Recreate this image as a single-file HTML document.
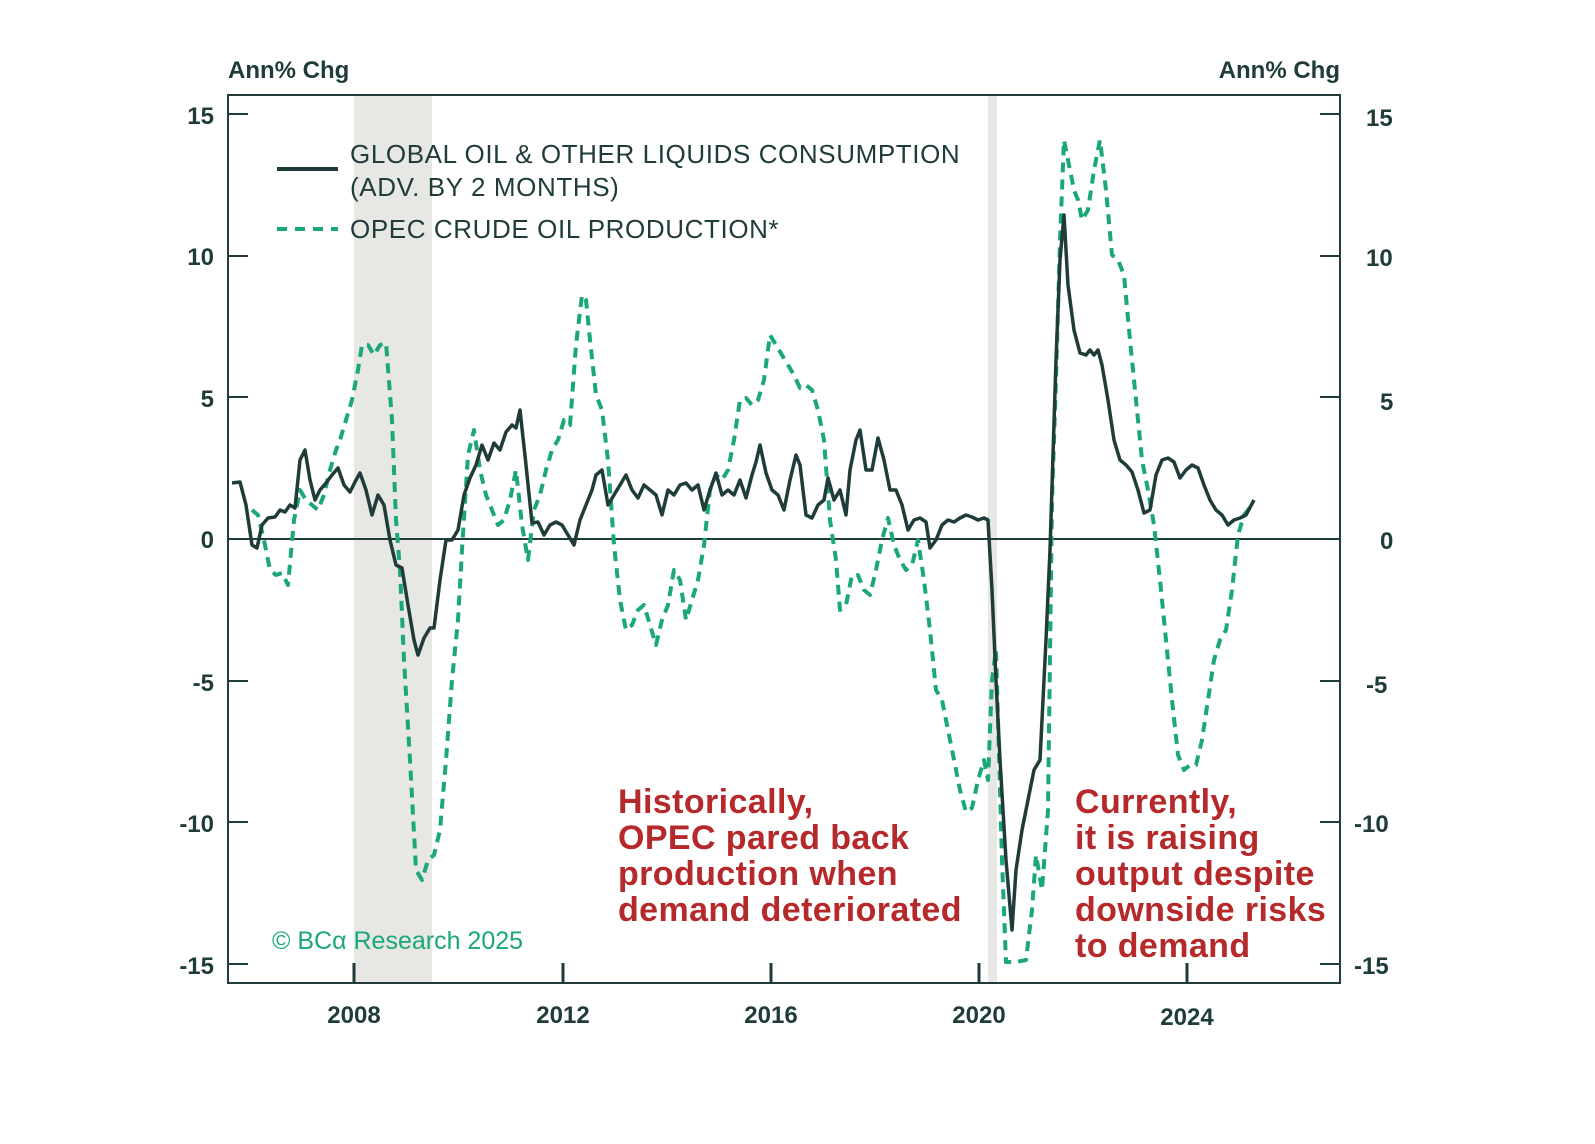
<!DOCTYPE html>
<html><head><meta charset="utf-8"><style>
html,body{margin:0;padding:0;background:#fff;}
svg{display:block;}
text{font-family:"Liberation Sans",sans-serif;}
</style></head><body>
<svg width="1595" height="1144" viewBox="0 0 1595 1144" xmlns="http://www.w3.org/2000/svg">
<rect x="354" y="96" width="78" height="886" fill="#e7e7e3"/>
<rect x="988" y="96" width="9" height="886" fill="#e7e7e3"/>
<rect x="228" y="95" width="1112" height="888" fill="none" stroke="#1f3b3a" stroke-width="2"/>
<line x1="228" y1="539" x2="1340" y2="539" stroke="#1f3b3a" stroke-width="2"/>
<g stroke="#1f3b3a" stroke-width="2">
<line x1="228" y1="114" x2="248" y2="114"/><line x1="228" y1="256" x2="248" y2="256"/><line x1="228" y1="397" x2="248" y2="397"/><line x1="228" y1="681" x2="248" y2="681"/><line x1="228" y1="822" x2="248" y2="822"/><line x1="228" y1="964" x2="248" y2="964"/>
<line x1="1320" y1="114" x2="1340" y2="114"/><line x1="1320" y1="256" x2="1340" y2="256"/><line x1="1320" y1="397" x2="1340" y2="397"/><line x1="1320" y1="681" x2="1340" y2="681"/><line x1="1320" y1="822" x2="1340" y2="822"/><line x1="1320" y1="964" x2="1340" y2="964"/>
</g>
<g stroke="#1f3b3a" stroke-width="3">
<line x1="354" y1="963" x2="354" y2="983"/><line x1="563" y1="963" x2="563" y2="983"/><line x1="771" y1="963" x2="771" y2="983"/><line x1="979" y1="963" x2="979" y2="983"/><line x1="1187" y1="963" x2="1187" y2="983"/>
</g>
<g fill="#1f3b3a" font-size="24" font-weight="bold">
<text x="228" y="78">Ann% Chg</text>
<text x="1340" y="78" text-anchor="end">Ann% Chg</text>
<g text-anchor="end"><text x="214" y="124">15</text><text x="214" y="265">10</text><text x="214" y="407">5</text><text x="214" y="548">0</text><text x="214" y="691">-5</text><text x="214" y="832">-10</text><text x="214" y="974">-15</text></g>
<g text-anchor="start"><text x="1366" y="126">15</text><text x="1366" y="266">10</text><text x="1380" y="410">5</text><text x="1380" y="549">0</text><text x="1366" y="693">-5</text><text x="1354" y="832">-10</text><text x="1354" y="974">-15</text></g>
<g text-anchor="middle"><text x="354" y="1023">2008</text><text x="563" y="1023">2012</text><text x="771" y="1023">2016</text><text x="979" y="1023">2020</text><text x="1187" y="1025">2024</text></g>
</g>
<line x1="277" y1="169" x2="338" y2="169" stroke="#1f3b3a" stroke-width="4"/>
<line x1="277" y1="229" x2="338" y2="229" stroke="#1aa77a" stroke-width="4" stroke-dasharray="10 8"/>
<g fill="#1f3b3a" font-size="26" letter-spacing="0.6">
<text x="350" y="163">GLOBAL OIL &amp; OTHER LIQUIDS CONSUMPTION</text>
<text x="350" y="196">(ADV. BY 2 MONTHS)</text>
<text x="350" y="238">OPEC CRUDE OIL PRODUCTION*</text>
</g>
<text x="272" y="949" font-family="Liberation Serif,serif" font-size="25" fill="#1aa77a">© BCα Research 2025</text>
<g fill="#b5292b" font-size="34" font-weight="bold" letter-spacing="0.4">
<text x="618" y="813">Historically,</text><text x="618" y="849">OPEC pared back</text><text x="618" y="885">production when</text><text x="618" y="921">demand deteriorated</text>
<text x="1075" y="813">Currently,</text><text x="1075" y="849">it is raising</text><text x="1075" y="885">output despite</text><text x="1075" y="921">downside risks</text><text x="1075" y="957">to demand</text>
</g>
<polyline fill="none" stroke="#1aa77a" stroke-width="4" stroke-dasharray="10 7" stroke-linejoin="round" points="252,510 258,515 264,540 270,570 276,575 282,573 288,585 294,520 300,490 306,500 312,505 318,510 324,495 330,470 336,450 340,440 346,420 352,400 358,370 362,345 368,345 374,355 380,345 386,343 392,420 396,520 400,570 404,660 410,760 416,870 422,880 428,860 434,855 440,830 446,760 452,680 458,620 462,550 468,455 474,430 480,470 486,495 492,510 498,525 504,520 510,500 516,470 522,525 528,560 534,510 540,495 546,470 552,450 558,440 564,420 570,425 576,345 582,295 586,300 590,340 596,395 602,410 608,460 614,545 620,600 626,630 632,625 638,610 644,605 650,625 656,645 662,620 668,605 674,570 680,580 686,620 692,600 698,580 704,545 710,490 716,475 722,480 728,470 734,440 740,400 746,398 752,405 758,400 764,380 770,335 776,345 782,355 788,365 794,375 800,388 806,385 812,390 818,410 824,440 830,520 836,560 840,610 846,605 852,575 858,575 864,590 870,595 876,570 882,540 888,518 894,545 900,560 906,570 912,565 918,540 924,580 930,630 936,690 942,700 948,730 954,760 960,790 966,812 972,808 978,780 984,760 988,780 992,680 996,650 1002,860 1006,962 1016,962 1026,960 1032,910 1036,855 1042,890 1048,810 1052,500 1056,380 1060,240 1064,140 1068,160 1074,190 1078,200 1082,220 1088,210 1094,170 1100,140 1106,190 1112,255 1118,260 1124,275 1130,340 1136,400 1142,460 1148,490 1154,525 1160,580 1166,640 1172,700 1178,755 1184,770 1190,765 1196,765 1202,740 1208,700 1214,660 1220,640 1226,630 1232,590 1238,535 1244,515 1252,505"/>
<polyline fill="none" stroke="#1f3b3a" stroke-width="3.5" stroke-linejoin="round" points="232,483 240,482 246,505 252,545 257,548 262,525 268,518 275,517 280,510 285,512 290,505 295,508 300,460 305,450 310,480 315,500 320,490 326,483 332,475 338,468 344,485 350,492 356,480 360,473 366,490 372,515 378,495 384,505 390,540 396,565 402,568 408,605 414,640 418,655 424,638 430,628 434,628 440,580 446,540 452,540 458,530 464,495 470,478 476,465 482,445 488,460 494,443 500,450 506,432 512,425 516,428 520,410 526,465 532,523 538,522 544,535 550,525 556,522 562,525 568,535 574,545 580,520 586,505 592,490 596,475 602,470 608,505 614,495 620,485 626,475 632,490 638,498 644,485 650,490 656,495 662,515 668,490 674,495 680,485 686,483 692,490 698,485 704,510 710,490 716,473 722,495 728,490 734,495 740,480 746,498 752,475 756,462 760,445 766,473 772,490 778,495 784,510 790,480 796,455 800,465 806,515 812,518 818,505 824,500 828,478 834,500 840,490 846,515 850,470 856,440 860,430 866,470 872,470 878,438 884,460 890,490 896,490 902,505 908,530 914,520 920,518 926,522 930,548 936,540 942,525 948,520 954,522 960,518 966,515 972,517 978,520 984,518 988,520 992,590 996,680 1000,760 1006,860 1012,930 1016,870 1022,830 1028,800 1034,770 1040,760 1046,640 1050,550 1056,360 1060,260 1064,215 1068,285 1074,330 1080,353 1086,355 1090,350 1094,355 1098,350 1102,365 1108,400 1114,440 1120,460 1126,465 1132,472 1138,490 1144,513 1150,510 1156,475 1162,460 1168,458 1174,462 1180,478 1186,470 1192,465 1198,468 1204,485 1210,500 1216,510 1222,515 1228,525 1234,520 1240,518 1246,515 1254,500"/>
</svg>
</body></html>
